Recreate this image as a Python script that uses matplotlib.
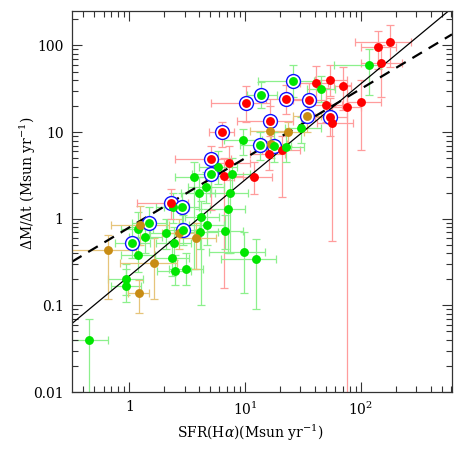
import matplotlib
matplotlib.use("Agg")
import matplotlib.pyplot as plt
from matplotlib.ticker import FixedLocator, FixedFormatter, NullFormatter
import numpy as np

plt.rcParams['font.family'] = ['DejaVu Serif']
plt.rcParams['mathtext.fontset'] = 'dejavuserif'

# ---------------- data ----------------
# red points (no ring)
red_x   = [177, 141.5, 149, 40.7, 54.3, 70.4, 50.2, 75.2, 99.4, 56.3, 15.9, 20.8, 7.2, 6.51, 11.85]
red_y   = [110, 96, 62, 36.9, 39.7, 34.3, 20.7, 19.7, 22.3, 12.9, 5.56, 6.18, 4.41, 3.13, 3.02]
red_xlo = [88.6, 100, 100, 30, 40, 58.6, 35, 55, 76, 42, 11, 14, 5, 4.5, 8]
red_xhi = [269, 200, 228, 52, 75, 82, 68, 100, 148, 86, 22, 30, 11, 9.5, 17]
red_ylo = [56, 54, 25.5, 22, 26, 17.9, 13, 0.001, 6.2, 0.55, 3.7, 1.8, 2.8, 0.16, 1.95]
red_yhi = [174, 147, 100, 58, 60, 56.5, 32, 35, 40, 20, 8, 9, 7, 5, 4.5]

# red points with blue ring
redr_x   = [10.2, 22.7, 35.7, 16.5, 54.1, 6.26, 5.12, 2.28]
redr_y   = [21.4, 24.3, 23.3, 13.4, 15.1, 9.9, 4.84, 1.51]
redr_xlo = [5.1, 15, 26, 8.5, 40, 4.83, 2.5, 1.17]
redr_xhi = [16.5, 33, 50, 26, 75, 7.94, 7.5, 3.2]
redr_ylo = [13.1, 16, 15, 9, 9, 6.75, 1.26, 1.0]
redr_yhi = [33.8, 35, 37, 20, 25, 13.1, 7, 2.2]

# green points (no ring)
grn_x   = [117, 45.4, 30.1, 9.65, 22.5, 5.8, 7.7, 3.6, 4.59, 3.96, 7.34, 2.37, 7.08, 4.16, 4.71,
           4.08, 6.71, 1.18, 1.37, 2.07, 2.41, 1.18, 2.34, 2.46, 3.08, 0.927, 0.936, 9.78, 12.38, 0.45]
grn_y   = [60.2, 31.8, 11.2, 8.07, 6.7, 3.94, 3.27, 3.06, 2.30, 2.0, 1.99, 1.35, 1.29, 1.06, 0.84,
           0.705, 0.73, 0.766, 0.618, 0.676, 0.524, 0.378, 0.348, 0.249, 0.260, 0.199, 0.168, 0.415, 0.34, 0.040]
grn_xlo = [58, 34, 22, 6.5, 15, 4, 5.5, 2.5, 3.2, 2.8, 5, 1.7, 5, 3, 3.3,
           2.9, 4.7, 0.85, 1.0, 1.5, 1.7, 0.85, 1.65, 1.75, 2.2, 0.65, 0.7, 4.9, 6.2, 0.3]
grn_xhi = [150, 60, 45.4, 14, 32, 8.5, 11, 5, 6.5, 5.5, 10.5, 3.3, 10, 6, 6.5,
           5.8, 9.5, 1.6, 1.9, 2.9, 3.4, 1.65, 3.3, 3.4, 4.3, 1.3, 1.25, 14.7, 18.6, 0.66]
grn_ylo = [26.7, 22, 7.5, 5.5, 4.5, 2.5, 2, 0.26, 1.5, 1.3, 0.4, 0.9, 0.4, 0.1, 0.5,
           0.45, 0.45, 0.5, 0.4, 0.45, 0.33, 0.24, 0.22, 0.171, 0.17, 0.13, 0.11, 0.14, 0.09, 0.001]
grn_yhi = [92, 45, 15, 11, 9.5, 6, 5, 4.5, 3.5, 3, 3, 2, 2, 1.6, 1.3,
           1.1, 1.1, 1.2, 0.9, 1.0, 0.8, 0.6, 0.55, 0.38, 0.4, 0.3, 0.26, 0.695, 0.59, 0.069]

# green points with blue ring
grnr_x   = [26.0, 13.8, 13.4, 17.7, 5.10, 2.83, 1.47, 2.90, 1.055]
grnr_y   = [38.6, 27.1, 7.06, 6.97, 3.25, 1.37, 0.90, 0.743, 0.527]
grnr_xlo = [12.9, 10.4, 9, 12, 3.5, 2, 1.05, 2.1, 0.75]
grnr_xhi = [39, 18.9, 19, 25, 7.5, 4, 2.1, 4, 1.5]
grnr_ylo = [25.5, 19, 4.8, 4.5, 2, 0.9, 0.6, 0.5, 0.35]
grnr_yhi = [60, 38, 10, 10, 5, 2, 1.35, 1.1, 0.8]

# orange points (no ring)
org_x   = [16.5, 23.3, 16.7, 1.24, 2.67, 3.78, 0.65, 1.64, 1.22]
org_y   = [10.4, 9.9, 7.3, 0.855, 0.676, 0.597, 0.435, 0.308, 0.14]
org_xlo = [11, 16, 12, 0.7, 1.9, 2.7, 0.3, 0.83, 0.98]
org_xhi = [24, 32, 23, 2.2, 3.7, 5.6, 1.15, 2.57, 1.47]
org_ylo = [7.5, 7, 5, 0.5, 0.45, 0.26, 0.12, 0.12, 0.081]
org_yhi = [14, 13, 10, 1.4, 1.0, 0.9, 0.65, 0.6, 0.196]

# orange point with blue ring
orgr_x   = [33.9]
orgr_y   = [15.3]
orgr_xlo = [26]
orgr_xhi = [45]
orgr_ylo = [10]
orgr_yhi = [22]

# fitted relations: log y = a + b log x
solid_a, solid_b = -0.66, 1.11
dash_a, dash_b = -0.10, 0.80

x_ticks = [1, 10, 100]
x_labels = ["1", r"$10^1$", r"$10^2$"]
y_ticks = [0.01, 0.1, 1, 10, 100]
y_labels = ["0.01", "0.1", "1", "10", "100"]

# ---------------- plot ----------------
fig = plt.figure(figsize=(4.63, 4.63), dpi=100)
ax = fig.add_axes([72/463, 71/463, 380/463, 381/463])
ax.set_xscale('log')
ax.set_yscale('log')
ax.set_xlim(0.32, 610)
ax.set_ylim(0.01, 250)

groups = [
    (red_x, red_y, red_xlo, red_xhi, red_ylo, red_yhi, '#ff0000', '#ff9c9c', False),
    (grn_x, grn_y, grn_xlo, grn_xhi, grn_ylo, grn_yhi, '#00e600', '#8cf08c', False),
    (org_x, org_y, org_xlo, org_xhi, org_ylo, org_yhi, '#c88c14', '#e6c47a', False),
    (redr_x, redr_y, redr_xlo, redr_xhi, redr_ylo, redr_yhi, '#ff0000', '#ff9c9c', True),
    (grnr_x, grnr_y, grnr_xlo, grnr_xhi, grnr_ylo, grnr_yhi, '#00e600', '#8cf08c', True),
    (orgr_x, orgr_y, orgr_xlo, orgr_xhi, orgr_ylo, orgr_yhi, '#c88c14', '#e6c47a', True),
]

for (x, y, xlo, xhi, ylo, yhi, c, ec, ring) in groups:
    x = np.array(x, float); y = np.array(y, float)
    xerr = [x - np.array(xlo), np.array(xhi) - x]
    yerr = [y - np.array(ylo), np.array(yhi) - y]
    ax.errorbar(x, y, xerr=xerr, yerr=yerr, fmt='none', ecolor=ec, elinewidth=0.9,
                capsize=3, capthick=0.9, zorder=1)

xx = np.logspace(np.log10(0.32), np.log10(610), 200)
ax.plot(xx, 10**(solid_a + solid_b*np.log10(xx)), color='black', lw=0.9, zorder=2)
ax.plot(xx, 10**(dash_a + dash_b*np.log10(xx)), color='black', lw=1.6, ls=(0, (5, 3.5)), zorder=2)

for (x, y, xlo, xhi, ylo, yhi, c, ec, ring) in groups:
    if ring:
        ax.plot(x, y, 'o', ms=10, mfc='white', mec='#1010ff', mew=1.0, ls='none', zorder=3)
    ax.plot(x, y, 'o', ms=6.4, mfc=c, mec='none', ls='none', zorder=4)

ax.xaxis.set_major_locator(FixedLocator(x_ticks))
ax.xaxis.set_major_formatter(FixedFormatter(x_labels))
ax.yaxis.set_major_locator(FixedLocator(y_ticks))
ax.yaxis.set_major_formatter(FixedFormatter(y_labels))
ax.xaxis.set_minor_formatter(NullFormatter())
ax.yaxis.set_minor_formatter(NullFormatter())
ax.tick_params(which='both', direction='in', top=True, right=True, colors='#333333',
               labelcolor='black', labelsize=10)
ax.tick_params(which='major', length=7, width=0.8, pad=6)
ax.tick_params(which='minor', length=4, width=0.8)
for s in ax.spines.values():
    s.set_linewidth(0.9)
    s.set_color('#333333')

fig.text(250/463, 1 - 433/463, r"SFR(H$\alpha$)(Msun yr$^{-1}$)", ha='center', va='center', fontsize=10)
fig.text(28/463, 1 - 183/463, r"$\Delta$M/$\Delta$t (Msun yr$^{-1}$)", ha='center', va='center',
         rotation=90, fontsize=10)

fig.savefig("out.png", dpi=100)
